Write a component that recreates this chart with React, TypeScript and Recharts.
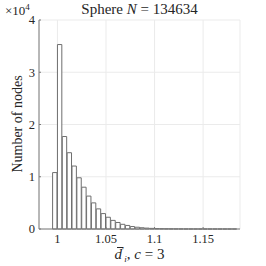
import {
  Bar,
  BarChart,
  CartesianGrid,
  XAxis,
  YAxis,
} from "recharts";

// histogram bins: left edges and counts (bin width 0.005)
const binWidth = 0.005;
const binStarts = [
  0.995, 1.0, 1.005, 1.01, 1.015, 1.02, 1.025, 1.03, 1.035, 1.04, 1.045, 1.05,
  1.055, 1.06, 1.065, 1.07, 1.075, 1.08, 1.085, 1.09, 1.095, 1.1, 1.105, 1.11,
  1.115, 1.12, 1.125, 1.13, 1.135, 1.14, 1.145, 1.15, 1.155, 1.16, 1.165, 1.17,
  1.175, 1.18,
];
const counts = [
  10800, 35300, 17700, 14600, 12050, 9800, 8000, 6300, 5000, 3850, 2950, 2250,
  1650, 1250, 900, 680, 470, 340, 240, 170, 120, 85, 60, 42, 30, 21, 15, 11, 8,
  6, 4, 3, 2, 2, 1, 1, 1, 1,
];

const xTicks = [1, 1.05, 1.1, 1.15];
const yTicks = [0, 10000, 20000, 30000, 40000];
const xDomain = [0.981, 1.188];
const yDomain = [0, 40000];

const data = binStarts.map((start, i) => ({
  center: start + binWidth / 2,
  count: counts[i],
}));

const W = 266;
const H = 266;
const margin = { top: 20, right: 26, left: 0, bottom: 0 };
const yAxisWidth = 39;
const plotW = W - margin.left - margin.right - yAxisWidth;
const barPx = (binWidth * plotW) / (xDomain[1] - xDomain[0]);

const serif = "'Liberation Serif', 'DejaVu Serif', serif";
const axisColor = "#7a7a7a";
const textColor = "#262626";

export default function App() {
  return (
    <div
      style={{
        position: "absolute",
        left: 0,
        top: 0,
        width: W,
        height: H,
        overflow: "hidden",
        background: "#fff",
        fontFamily: serif,
        color: textColor,
      }}
    >
      <BarChart width={W} height={H} data={data} margin={margin} barGap={0}>
        <CartesianGrid stroke="#ebebeb" strokeWidth={1} />
        <XAxis
          dataKey="center"
          type="number"
          domain={xDomain}
          ticks={xTicks}
          interval={0}
          allowDataOverflow
          height={37}
          stroke={axisColor}
          tickSize={-2}
          tickMargin={7}
          tick={{ fill: textColor, fontSize: 12.5, fontFamily: serif }}
        />
        <XAxis
          xAxisId="top"
          dataKey="center"
          type="number"
          orientation="top"
          domain={xDomain}
          ticks={xTicks}
          interval={0}
          allowDataOverflow
          height={0}
          stroke={axisColor}
          tickSize={-2}
          tickFormatter={() => ""}
        />
        <YAxis
          type="number"
          domain={yDomain}
          ticks={yTicks}
          interval={0}
          width={yAxisWidth}
          stroke={axisColor}
          tickSize={-2}
          tickMargin={6}
          tickFormatter={(v: number) => String(v / 10000)}
          tick={{ fill: textColor, fontSize: 12.5, fontFamily: serif }}
        />
        <YAxis
          yAxisId="right"
          orientation="right"
          type="number"
          domain={yDomain}
          ticks={yTicks}
          interval={0}
          width={0}
          stroke={axisColor}
          tickSize={-2}
          tickFormatter={() => ""}
        />
        <Bar
          dataKey="count"
          barSize={barPx}
          fill="#ffffff"
          stroke="#6e6e6e"
          strokeWidth={1}
          isAnimationActive={false}
        />
      </BarChart>

      {/* title */}
      <div
        style={{
          position: "absolute",
          left: 39,
          width: 201,
          top: 0,
          textAlign: "center",
          fontSize: 15,
          lineHeight: "18px",
          whiteSpace: "nowrap",
        }}
      >
        Sphere <i>N</i>&nbsp;=&nbsp;134634
      </div>

      {/* exponent */}
      <div
        style={{
          position: "absolute",
          left: 5,
          top: 3,
          fontSize: 13,
          lineHeight: "15px",
          whiteSpace: "nowrap",
        }}
      >
        ×10
        <span style={{ fontSize: 9, position: "relative", top: -5 }}>4</span>
      </div>

      {/* y label */}
      <div
        style={{
          position: "absolute",
          left: 18,
          top: 124,
          fontSize: 14,
          lineHeight: "16px",
          whiteSpace: "nowrap",
          transform: "translate(-50%, -50%) rotate(-90deg)",
        }}
      >
        Number of nodes
      </div>

      {/* x label */}
      <div
        style={{
          position: "absolute",
          left: 39,
          width: 201,
          top: 247,
          textAlign: "center",
          fontSize: 15,
          lineHeight: "15px",
          whiteSpace: "nowrap",
        }}
      >
        <span style={{ position: "relative" }}>
          <i>d</i>
          <span
            style={{
              position: "absolute",
              left: 2,
              top: 1,
              width: 6,
              borderTop: "1px solid " + textColor,
            }}
          />
        </span>
        <span style={{ fontSize: 10, position: "relative", top: -5 }}>′</span>
        <i style={{ fontSize: 9, position: "relative", top: 3 }}>i</i>
        , <i>c</i>&nbsp;=&nbsp;3
      </div>
    </div>
  );
}
